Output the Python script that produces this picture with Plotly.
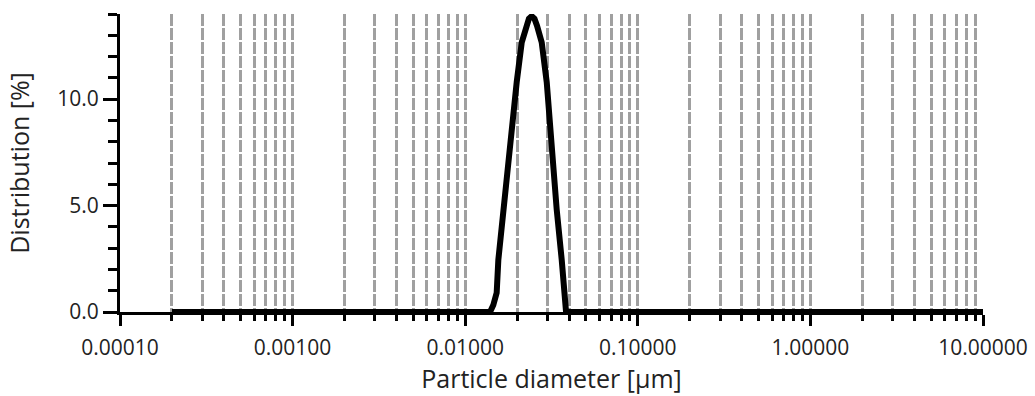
import plotly.graph_objects as go

# Particle size distribution (diameter in µm, distribution in %)
diameter_um = [0.0002, 0.001, 0.01, 0.01393, 0.01455, 0.01522, 0.01556, 0.01662,
               0.01777, 0.01860, 0.01988, 0.02126, 0.02251, 0.0234, 0.02429,
               0.0252, 0.02606, 0.02775, 0.02967, 0.03172, 0.03390, 0.03624,
               0.03787, 0.0384, 0.1, 1.0, 10.0]
distribution_pct = [0.0, 0.0, 0.0, 0.0, 0.33, 0.9, 2.45, 4.81,
                    7.4, 9.0, 10.8, 12.67, 13.45, 13.78, 13.9,
                    13.78, 13.45, 12.67, 10.8, 7.6, 4.81, 2.45,
                    0.4, 0.0, 0.0, 0.0, 0.0]

x_title = "Particle diameter [µm]"
y_title = "Distribution [%]"

FONT = "Open Sans"
GRID = "#a0a0a0"
TXT = "#222222"

fig = go.Figure()
fig.add_trace(go.Scatter(
    x=diameter_um, y=distribution_pct, mode="lines",
    line=dict(color="black", width=6),
    hoverinfo="skip", showlegend=False,
))

fig.update_layout(
    width=1035, height=396,
    margin=dict(l=120, r=52, t=14, b=84),
    paper_bgcolor="white", plot_bgcolor="white",
    font=dict(family=FONT, color=TXT),
    xaxis=dict(
        type="log", range=[-4, 1], dtick=1, tickformat=".5f",
        automargin=False,
        showline=True, linecolor="black", linewidth=3,
        ticks="outside", ticklen=11, tickwidth=2.5, tickcolor="black",
        tickfont=dict(size=21, family=FONT, color=TXT),
        ticklabelstandoff=4,
        showgrid=True, gridcolor=GRID, gridwidth=2.5, griddash="12px,2px",
        zeroline=False,
        minor=dict(dtick="D1", ticks="outside", ticklen=6, tickwidth=2.5,
                   tickcolor="black", showgrid=True, gridcolor=GRID,
                   gridwidth=2.5, griddash="12px,2px"),
        title=dict(text=x_title, font=dict(size=25, family=FONT, color=TXT),
                   standoff=2),
    ),
    yaxis=dict(
        range=[0, 14], tick0=0, dtick=5, tickformat=".1f",
        automargin=False,
        showline=True, linecolor="black", linewidth=3,
        ticks="outside", ticklen=14, tickwidth=2.5, tickcolor="black",
        tickfont=dict(size=21, family=FONT, color=TXT),
        showgrid=False, zeroline=False,
        minor=dict(dtick=1, ticks="outside", ticklen=9, tickwidth=2.5,
                   tickcolor="black", showgrid=False),
        title=dict(text=y_title, font=dict(size=25, family=FONT, color=TXT),
                   standoff=21),
    ),
)

fig.write_html("out.html")
